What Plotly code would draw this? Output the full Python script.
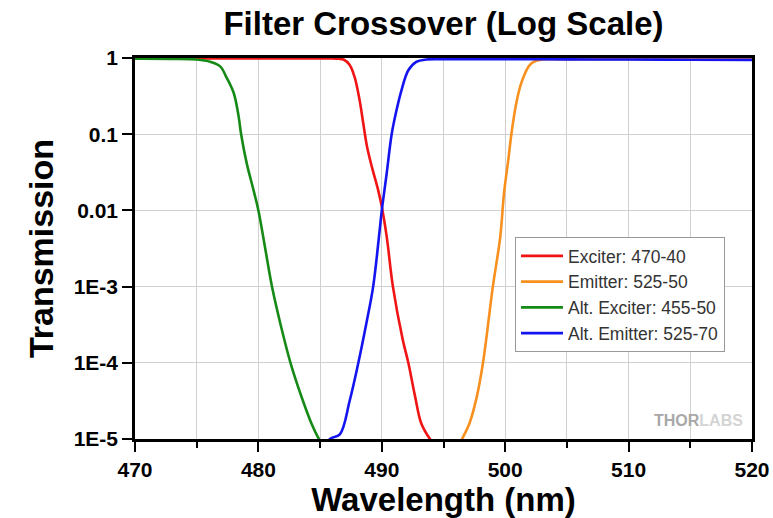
import plotly.graph_objects as go

# ---- data ----
exciter_wl = [470, 475, 480, 484, 486, 486.5, 486.9, 487.4, 487.8, 488.2, 488.5, 488.8, 489.2,
              489.7, 490.0, 490.4, 490.9, 491.7, 492.15, 492.7, 493.2, 493.9, 494.4]
exciter_T = [0.99, 0.99, 0.99, 0.99, 0.986, 0.977, 0.955, 0.81, 0.56, 0.28, 0.138, 0.069, 0.037,
             0.0186, 0.0112, 0.0045, 1e-3, 2e-4, 1e-4, 3.6e-5, 1.6e-5, 1e-5, 7.9e-6]

emitter_wl = [496.0, 496.5, 497.1, 497.7, 498.2, 499.0, 499.6, 499.9, 500.25, 500.5, 500.9,
              501.3, 501.9, 502.3, 503, 505, 510, 515, 520]
emitter_T = [7e-6, 1e-5, 1.6e-5, 3.6e-5, 1e-4, 1e-3, 4.5e-3, 0.0166, 0.046, 0.1, 0.257,
             0.468, 0.776, 0.89, 0.955, 0.966, 0.966, 0.965, 0.963]

alt_exciter_wl = [470, 473, 475, 476.1, 476.9, 477.4, 478.0, 478.4, 478.6, 479.05, 479.6, 480.0,
                  480.5, 481.1, 481.8, 482.6, 483.6, 484.3, 484.9, 485.5]
alt_exciter_T = [0.977, 0.973, 0.955, 0.891, 0.776, 0.562, 0.347, 0.17, 0.1, 0.0417, 0.0186, 0.01,
                 0.00355, 1e-3, 3.16e-4, 1e-4, 3.2e-5, 1.6e-5, 1e-5, 7e-6]

alt_emitter_wl = [485.2, 485.8, 486.6, 487.4, 488.1, 488.75, 489.3, 489.8, 490.0, 490.4, 490.8,
                  491.2, 491.6, 492.15, 492.8, 493.6, 495, 500, 505, 510, 515, 520]
alt_emitter_T = [7e-6, 1e-5, 1.15e-5, 3.2e-5, 1e-4, 3.3e-4, 1e-3, 5e-3, 0.01, 0.031, 0.1,
                 0.209, 0.38, 0.69, 0.89, 0.955, 0.964, 0.964, 0.96, 0.955, 0.95, 0.945]

series_names = ["Exciter: 470-40", "Emitter: 525-50", "Alt. Exciter: 455-50", "Alt. Emitter: 525-70"]
series_colors = ["#f01414", "#f7901e", "#168a16", "#1414f0"]

y_tickvals = [1, 0.1, 0.01, 0.001, 1e-4, 1e-5]
y_ticktext = ["1", "0.1", "0.01", "1E-3", "1E-4", "1E-5"]

FONT = "Arial, Liberation Sans, sans-serif"

fig = go.Figure()
for wl, T, name, col in zip(
        [exciter_wl, emitter_wl, alt_exciter_wl, alt_emitter_wl],
        [exciter_T, emitter_T, alt_exciter_T, alt_emitter_T],
        series_names, series_colors):
    fig.add_trace(go.Scatter(x=wl, y=T, name=name, mode="lines",
                             line=dict(color=col, width=2.6, shape="spline", smoothing=1.0)))

fig.update_layout(
    width=773, height=518,
    margin=dict(l=135, r=21, t=58, b=79),
    paper_bgcolor="white", plot_bgcolor="white",
    title=dict(text="<b>Filter Crossover (Log Scale)</b>", x=0.5, xref="paper", xanchor="center",
               y=1 - 23 / 518, yref="container", yanchor="middle", automargin=False,
               font=dict(family=FONT, size=33, color="black")),
    legend=dict(x=(515 - 135) / 617, y=(439 - 237) / 381, xanchor="left", yanchor="top",
                bgcolor="white", bordercolor="#999999", borderwidth=1,
                font=dict(family=FONT, size=17.5, color="#333333"),
                itemwidth=42, tracegroupgap=0),
    showlegend=True,
)

fig.update_xaxes(
    range=[470, 520], tick0=470, dtick=10, automargin=False,
    ticks="outside", ticklen=10, tickwidth=2, tickcolor="black",
    showline=True, linewidth=2.5, linecolor="black", mirror=True,
    showgrid=True, gridcolor="#d0d0d0", gridwidth=1, zeroline=False,
    minor=dict(dtick=5, ticks="outside", ticklen=6, tickwidth=2, tickcolor="black",
               showgrid=True, gridcolor="#d0d0d0", gridwidth=1),
    tickfont=dict(family=FONT, size=21, color="black", weight="bold"),
    title=dict(text="<b>Wavelength (nm)</b>", standoff=4,
               font=dict(family=FONT, size=33, color="black")),
    layer="below traces",
)
fig.update_yaxes(
    type="log", range=[-5, 0], automargin=False,
    tickvals=y_tickvals, ticktext=y_ticktext,
    ticks="outside", ticklen=10, tickwidth=2, tickcolor="black",
    showline=True, linewidth=2.5, linecolor="black", mirror=True,
    showgrid=True, gridcolor="#d0d0d0", gridwidth=1, zeroline=False,
    tickfont=dict(family=FONT, size=21, color="black", weight="bold"),
    title=dict(text="<b>Transmission</b>", standoff=10,
               font=dict(family=FONT, size=34, color="black")),
    layer="below traces",
)

fig.add_annotation(
    text="<b>THOR</b><span style='color:#d4d4d4'><b>LABS</b></span>",
    xref="paper", yref="paper", x=1 - 7 / 617, y=(439 - 420) / 381,
    xanchor="right", yanchor="middle", showarrow=False,
    font=dict(family=FONT, size=16, color="#a8a8a8"),
)

fig.write_html("out.html", config={"displayModeBar": False},
               post_script="document.body.style.margin='0';document.body.style.padding='0';")
